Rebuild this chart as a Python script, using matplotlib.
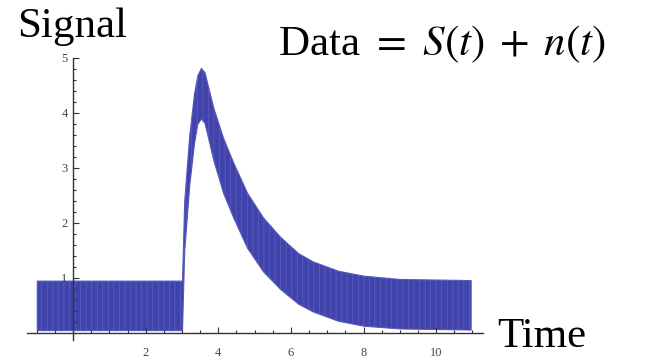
import numpy as np
import matplotlib
matplotlib.use("Agg")
import matplotlib.pyplot as plt
from matplotlib.ticker import FixedLocator, MultipleLocator

# envelope of the noisy trace
time_pts = [-1.0, 3.0, 3.06, 3.2, 3.33, 3.42, 3.52, 3.62, 3.86, 4.13, 4.41,
            4.79, 5.23, 5.7, 6.2, 6.6, 7.3, 8.0, 9.0, 10.95]
upper = [0.95, 0.95, 2.4, 3.6, 4.35, 4.68, 4.82, 4.74, 4.1, 3.55, 3.1,
         2.55, 2.1, 1.75, 1.45, 1.3, 1.13, 1.04, 0.98, 0.96]
lower = [0.05, 0.05, 1.5, 2.7, 3.45, 3.8, 3.9, 3.82, 3.15, 2.55, 2.1,
         1.55, 1.12, 0.8, 0.53, 0.39, 0.22, 0.13, 0.08, 0.06]

x_ticks = [2, 4, 6, 8, 10]
y_ticks = [1, 2, 3, 4, 5]

plt.rcParams['font.family'] = ['Liberation Serif', 'DejaVu Serif']
plt.rcParams['mathtext.fontset'] = 'stix'
plt.rcParams['hatch.linewidth'] = 0.6

W, H = 654, 360
fig = plt.figure(figsize=(W / 100, H / 100), dpi=100)

# axes placed in pixels: x from 27 to 483, y from 340 (bottom) to 58 (y=5)
ax = fig.add_axes([27 / W, 1 - 340 / H, 456 / W, (340 - 58) / H])
ax.set_xlim(-1.27, 11.29)
ax.set_ylim(-0.13, 5)

blue = '#4043ac'
ax.fill_between(time_pts, lower, upper, color=blue, linewidth=0.8,
                edgecolor='#5558b8')
# light vertical streaks to hint at the noise texture
ax.fill_between(time_pts, lower, upper, facecolor='none', hatch='|||',
                edgecolor='#7a7cc9', linewidth=0, alpha=0.45)

for s in ['top', 'right']:
    ax.spines[s].set_visible(False)
ax.spines['left'].set_position(('data', 0))
ax.spines['bottom'].set_position(('data', 0))
for s in ['left', 'bottom']:
    ax.spines[s].set_color('#333333')
    ax.spines[s].set_linewidth(1.0)
    ax.spines[s].set_zorder(3)

ax.xaxis.set_major_locator(FixedLocator(x_ticks))
ax.xaxis.set_minor_locator(MultipleLocator(0.5))
ax.yaxis.set_major_locator(FixedLocator(y_ticks))
ax.yaxis.set_minor_locator(MultipleLocator(0.2))
ax.tick_params(which='both', direction='in', color='#333333', width=0.8)
ax.tick_params(which='major', length=4)
ax.tick_params(which='minor', length=2.5)
ax.tick_params(axis='x', which='major', pad=10, labelsize=9, labelcolor='#444444')
ax.tick_params(axis='y', which='major', pad=4, labelsize=9, labelcolor='#444444')

fig.text(17 / W, 1 - 37 / H, 'Signal', fontsize=31, va='baseline', ha='left')
fig.text(278 / W, 1 - 55 / H, r'Data $=$ $S(t)\;+\;n(t)$', fontsize=31,
         va='baseline', ha='left')
fig.text(497 / W, 1 - 347 / H, 'Time', fontsize=31, va='baseline', ha='left')

fig.savefig('out.png', dpi=100)
